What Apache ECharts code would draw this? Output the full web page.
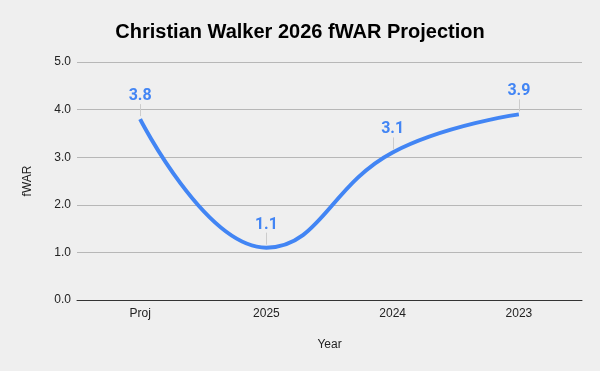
<!DOCTYPE html>
<html><head><meta charset="utf-8">
<script src="https://cdn.jsdelivr.net/npm/echarts@6/dist/echarts.min.js"></script>
<style>html,body{margin:0;padding:0;background:#efefef}#c{width:600px;height:371px}</style>
</head><body><div id="c"></div>
<script>
const categories = ["Proj", "2025", "2024", "2023"];
const fwar = [3.8, 1.1, 3.1, 3.9];
const yTicks = [0, 1, 2, 3, 4, 5];

const FONT = 'Liberation Sans, Arial, sans-serif';
const chart = echarts.init(document.getElementById('c'));
chart.setOption({
  backgroundColor: '#efefef',
  textStyle: {fontFamily: FONT},
  title: {
    text: 'Christian Walker 2026 fWAR Projection',
    left: 'center', top: 17,
    textStyle: {fontSize: 20, fontWeight: 'bold', color: '#000', fontFamily: FONT}
  },
  grid: {left: 77, right: 18, top: 62, bottom: 71, containLabel: false},
  xAxis: {
    type: 'category', data: categories, boundaryGap: true,
    name: 'Year', nameLocation: 'middle', nameGap: 39,
    nameTextStyle: {fontSize: 12, color: '#222'},
    axisLine: {lineStyle: {color: '#333', width: 1}},
    axisTick: {show: false},
    axisLabel: {fontSize: 12, color: '#222', margin: 8}
  },
  yAxis: {
    type: 'value', min: yTicks[0], max: yTicks[yTicks.length - 1], interval: 1,
    name: 'fWAR', nameLocation: 'middle', nameGap: 43, nameRotate: 90,
    nameTextStyle: {fontSize: 12, color: '#222'},
    axisLine: {show: false}, axisTick: {show: false},
    axisLabel: {fontSize: 12, color: '#222', margin: 6, formatter: v => v.toFixed(1)},
    splitLine: {lineStyle: {color: '#b7b7b7', width: 1}}
  },
  series: [{
    type: 'line', data: fwar, smooth: 0.45,
    symbol: 'none',
    lineStyle: {color: '#4285F4', width: 4},
    itemStyle: {color: '#4285F4'},
    z: 3
  }, {
    type: 'custom', data: fwar.map((v, i) => [i, v]), z: 4,
    renderItem: (params, api) => {
      const p = api.coord([api.value(0), api.value(1)]);
      return {
        type: 'group',
        children: [{
          type: 'line',
          shape: {x1: Math.round(p[0]) + 0.5, y1: p[1] - 15, x2: Math.round(p[0]) + 0.5, y2: p[1] - 3},
          style: {stroke: '#cccccc', lineWidth: 1}
        }, {
          type: 'text',
          x: p[0], y: p[1] - 23,
          style: {
            text: api.value(1).toFixed(1), fill: '#4285F4',
            font: 'bold 16px Roboto, ' + FONT, align: 'center', verticalAlign: 'middle'
          }
        }]
      };
    }
  }]
});
</script></body></html>
